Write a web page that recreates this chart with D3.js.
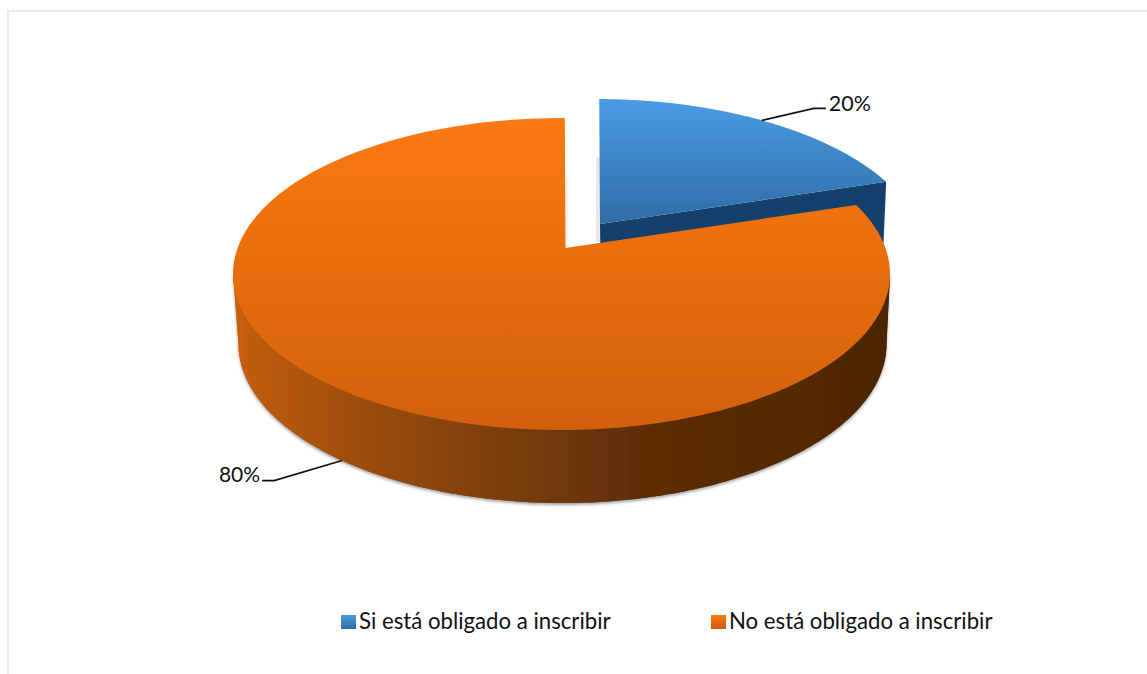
<!DOCTYPE html>
<html><head><meta charset="utf-8">
<script src="https://cdn.jsdelivr.net/npm/d3@7"></script>
<style>html,body{margin:0;padding:0;background:#fff}svg{display:block}text{font-family:Lato,"Open Sans",sans-serif;fill:#111}</style>
</head><body><svg id="c" width="1147" height="674"></svg>
<script>
const categories = ["Si está obligado a inscribir", "No está obligado a inscribir"];
const values = [20, 80];
const labels = ["20%", "80%"];
const svg = d3.select("#c");
const defs = svg.append("defs");
function lin(id, stops, horiz){
  const g = defs.append("linearGradient").attr("id", id)
    .attr("x1",0).attr("y1",0).attr("x2",horiz?1:0).attr("y2",horiz?0:1);
  stops.forEach(s=>g.append("stop").attr("offset",s[0]).attr("stop-color",s[1]));
}
lin("gBlue",[[0,"#4a9ce4"],[1,"#2f6ca6"]]);
lin("gOrange",[[0,"#fb7a12"],[1,"#d2600e"]]);
lin("gSide",[[0,"#c9620f"],[0.03,"#bd5b0f"],[0.18,"#a04e0d"],[0.376,"#80400b"],[0.5,"#70380a"],[0.63,"#5c2d06"],[0.86,"#552a05"],[1,"#4a2504"]],true);
lin("sBlue",[[0,"#4a9ce4"],[1,"#2f6ca6"]]);
lin("sOrange",[[0,"#fb7a12"],[1,"#cd5d0e"]]);
const soft = defs.append("filter").attr("id","soft").attr("x","-5%").attr("y","-5%").attr("width","110%").attr("height","110%");
soft.append("feGaussianBlur").attr("stdDeviation",0.7);
const shadow = defs.append("filter").attr("id","shadow").attr("x","-5%").attr("y","-5%").attr("width","110%").attr("height","115%");
shadow.append("feDropShadow").attr("dx",0).attr("dy",2).attr("stdDeviation",1.6).attr("flood-color","#555").attr("flood-opacity",0.55);

// projected disc frames: top faces and the floor of the pie
const frames = [
  {cx:596, cy:255, rx:328.5, ry:156, c:0.199},
  {cx:561.5, cy:274, rx:328.5, ry:156, c:0.167}
];
const apexDx = 4;
const floorShift = {dx:1, dy:70, rx:324, ry:159};
function project(f, a){
  const x=Math.sin(a), y=Math.cos(a), s=Math.sqrt(1-f.c*f.c), d=1+f.c*y;
  return [f.cx+f.rx*x*s/d, f.cy-f.ry*(y+f.c)/d];
}
const apex = f=>[f.cx+apexDx, f.cy-f.ry*f.c];
const floorOf = f=>({cx:f.cx+floorShift.dx, cy:f.cy+floorShift.dy, rx:floorShift.rx, ry:floorShift.ry, c:f.c});
const turn = 0.012;
const arcs = d3.pie().sort(null).startAngle(turn).endAngle(2*Math.PI+turn)(values);
const line = d3.line();
const sample = (f,a0,a1)=>d3.range(0,161).map(i=>project(f,a0+(a1-a0)*i/160));
const pie = svg.append("g").attr("filter","url(#soft)");

// faint inner cut walls seen in the gap
{
  const a=apex(frames[0]);
  pie.append("rect").attr("x",a[0]-4).attr("y",a[1]-66).attr("width",4).attr("height",84).attr("fill","#e6e8ec");
  const b=apex(frames[1]);
  pie.append("rect").attr("x",b[0]).attr("y",b[1]-71).attr("width",3).attr("height",71).attr("fill","#f2f3f5");
}
// blue cut wall (behind orange)
{
  const f=frames[0], a=arcs[0], fl=floorOf(f);
  const wall=[apex(f),project(f,a.endAngle),project(fl,a.endAngle),apex(fl)];
  pie.append("path").attr("d",line(wall)+"Z").attr("fill","#123f6c");
}
// blue top
{
  const f=frames[0], a=arcs[0];
  pie.append("path").attr("d",line([apex(f),...sample(f,a.startAngle,a.endAngle)])+"Z").attr("fill","url(#gBlue)");
}
// orange outer wall
{
  const f=frames[1], fl=floorOf(f);
  const low=d3.range(0,181).map(i=>{const t=Math.PI/2+Math.PI*i/180;return [fl.cx+fl.rx*Math.sin(t),fl.cy-fl.ry*Math.cos(t)];});
  const path=[[f.cx+f.rx,f.cy],...low,[f.cx-f.rx,f.cy]];
  svg.insert("path","g").attr("d",line(path)+"Z").attr("fill","url(#gSide)").attr("filter","url(#shadow)");
  pie.append("path").attr("d",line(path)+"Z").attr("fill","url(#gSide)");
}
// orange top
{
  const f=frames[1], a=arcs[1];
  pie.append("path").attr("d",line([apex(f),...sample(f,a.startAngle,a.endAngle)])+"Z").attr("fill","url(#gOrange)");
}
// leaders and labels
{
  const mid=d=>(d.startAngle+d.endAngle)/2;
  const p0=project(frames[0],mid(arcs[0]));
  const q0=[p0[0]+52,p0[1]-12];
  svg.append("path").attr("d",line([p0,q0,[q0[0]+12,q0[1]]])).attr("fill","none").attr("stroke","#111").attr("stroke-width",1.7);
  svg.append("text").attr("x",q0[0]+15).attr("y",q0[1]+3).attr("font-size",21.5).text(labels[0]);
  const p1=project(floorOf(frames[1]),mid(arcs[1]));
  const q1=[p1[0]-68,p1[1]+20];
  svg.append("path").attr("d",line([p1,q1,[q1[0]-12,q1[1]]])).attr("fill","none").attr("stroke","#111").attr("stroke-width",1.7);
  svg.append("text").attr("x",q1[0]-14).attr("y",q1[1]+1).attr("text-anchor","end").attr("font-size",21).text(labels[1]);
}
// legend
const legendX=d3.scaleOrdinal().domain(categories).range([341,711]);
categories.forEach((c,i)=>{
  svg.append("rect").attr("x",legendX(c)).attr("y",615).attr("width",15).attr("height",14).attr("fill",i?"url(#sOrange)":"url(#sBlue)");
  svg.append("text").attr("x",legendX(c)+18).attr("y",629).attr("font-size",22.2).text(c);
});
// frame
svg.append("path").attr("d","M8,674V11H1147").attr("fill","none").attr("stroke","#e8ebf1").attr("stroke-width",2);
</script></body></html>
